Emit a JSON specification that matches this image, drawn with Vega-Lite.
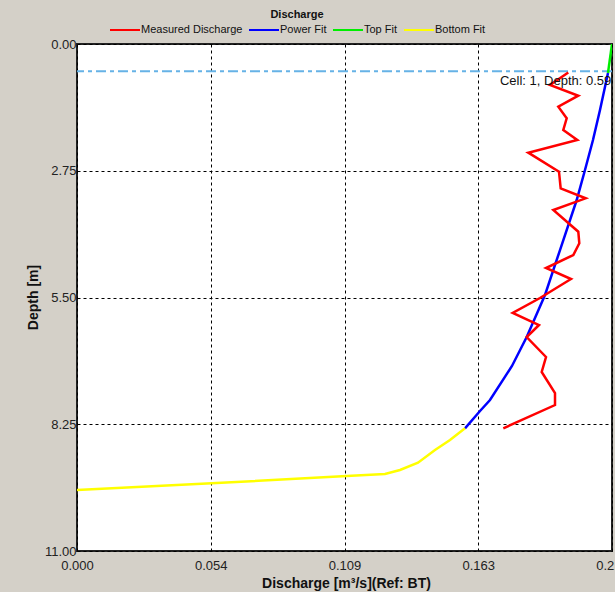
{
  "$schema": "https://vega.github.io/schema/vega-lite/v6.json",
  "width": 535,
  "height": 507,
  "autosize": {"type": "none"},
  "padding": {"left": 77, "top": 44, "right": 3, "bottom": 41},
  "background": "#d4d0c8",
  "config": {
    "font": "Liberation Sans",
    "view": {"fill": "white", "stroke": "#222222", "strokeWidth": 2},
    "axis": {
      "labelFont": "Liberation Sans",
      "labelFontSize": 13,
      "labelColor": "#222222",
      "titleFont": "Liberation Sans",
      "titleFontSize": 14,
      "titleFontWeight": "bold",
      "titleColor": "#111111",
      "grid": true,
      "gridColor": "#000000",
      "gridDash": [3, 3],
      "gridOpacity": 1,
      "gridWidth": 1,
      "ticks": false,
      "domain": false,
      "labelFlush": false,
      "labelOverlap": false,
      "labelBound": false
    }
  },
  "layer": [
    {
      "data": {"values": [{"depth": 0.59}]},
      "mark": {"type": "rule", "color": "#66b2e6", "strokeWidth": 2, "strokeDash": [10, 4, 4, 4]},
      "encoding": {
        "y": {"field": "depth", "type": "quantitative", "scale": {"domain": [0, 11], "reverse": true, "nice": false, "zero": false}}
      }
    },
    {
      "data": {
        "values": [
          {"series": "Top Fit", "i": 0, "depth": 0.0, "q": 0.2175},
          {"series": "Top Fit", "i": 1, "depth": 0.629, "q": 0.21587},
          {"series": "Power Fit", "i": 0, "depth": 0.629, "q": 0.21587},
          {"series": "Power Fit", "i": 1, "depth": 1.432, "q": 0.21262},
          {"series": "Power Fit", "i": 2, "depth": 2.083, "q": 0.20977},
          {"series": "Power Fit", "i": 3, "depth": 2.734, "q": 0.20652},
          {"series": "Power Fit", "i": 4, "depth": 3.385, "q": 0.20315},
          {"series": "Power Fit", "i": 5, "depth": 4.47, "q": 0.19636},
          {"series": "Power Fit", "i": 6, "depth": 5.446, "q": 0.19026},
          {"series": "Power Fit", "i": 7, "depth": 6.357, "q": 0.18282},
          {"series": "Power Fit", "i": 8, "depth": 6.986, "q": 0.17684},
          {"series": "Power Fit", "i": 9, "depth": 7.724, "q": 0.1679},
          {"series": "Power Fit", "i": 10, "depth": 7.963, "q": 0.16384},
          {"series": "Power Fit", "i": 11, "depth": 8.338, "q": 0.15774},
          {"series": "Bottom Fit", "i": 0, "depth": 8.338, "q": 0.15774},
          {"series": "Bottom Fit", "i": 1, "depth": 8.592, "q": 0.15164},
          {"series": "Bottom Fit", "i": 2, "depth": 8.809, "q": 0.14554},
          {"series": "Bottom Fit", "i": 3, "depth": 9.084, "q": 0.13863},
          {"series": "Bottom Fit", "i": 4, "depth": 9.243, "q": 0.13131},
          {"series": "Bottom Fit", "i": 5, "depth": 9.329, "q": 0.12521},
          {"series": "Bottom Fit", "i": 6, "depth": 9.373, "q": 0.10964},
          {"series": "Bottom Fit", "i": 7, "depth": 9.531, "q": 0.05476},
          {"series": "Bottom Fit", "i": 8, "depth": 9.677, "q": 0.0},
          {"series": "Measured Discharge", "i": 0, "depth": 0.62, "q": 0.19973},
          {"series": "Measured Discharge", "i": 1, "depth": 0.89, "q": 0.19229},
          {"series": "Measured Discharge", "i": 2, "depth": 1.122, "q": 0.2038},
          {"series": "Measured Discharge", "i": 3, "depth": 1.36, "q": 0.19567},
          {"series": "Measured Discharge", "i": 4, "depth": 1.612, "q": 0.19908},
          {"series": "Measured Discharge", "i": 5, "depth": 1.866, "q": 0.1977},
          {"series": "Measured Discharge", "i": 6, "depth": 2.083, "q": 0.20339},
          {"series": "Measured Discharge", "i": 7, "depth": 2.358, "q": 0.18347},
          {"series": "Measured Discharge", "i": 8, "depth": 2.771, "q": 0.19595},
          {"series": "Measured Discharge", "i": 9, "depth": 3.131, "q": 0.19664},
          {"series": "Measured Discharge", "i": 10, "depth": 3.348, "q": 0.20681},
          {"series": "Measured Discharge", "i": 11, "depth": 3.602, "q": 0.19364},
          {"series": "Measured Discharge", "i": 12, "depth": 4.072, "q": 0.2038},
          {"series": "Measured Discharge", "i": 13, "depth": 4.324, "q": 0.20421},
          {"series": "Measured Discharge", "i": 14, "depth": 4.578, "q": 0.20177},
          {"series": "Measured Discharge", "i": 15, "depth": 4.86, "q": 0.19067},
          {"series": "Measured Discharge", "i": 16, "depth": 5.099, "q": 0.20083},
          {"series": "Measured Discharge", "i": 17, "depth": 5.511, "q": 0.18823},
          {"series": "Measured Discharge", "i": 18, "depth": 5.836, "q": 0.17713},
          {"series": "Measured Discharge", "i": 19, "depth": 6.097, "q": 0.18782},
          {"series": "Measured Discharge", "i": 20, "depth": 6.357, "q": 0.18282},
          {"series": "Measured Discharge", "i": 21, "depth": 6.791, "q": 0.19067},
          {"series": "Measured Discharge", "i": 22, "depth": 7.116, "q": 0.18892},
          {"series": "Measured Discharge", "i": 23, "depth": 7.572, "q": 0.19433},
          {"series": "Measured Discharge", "i": 24, "depth": 7.833, "q": 0.19433},
          {"series": "Measured Discharge", "i": 25, "depth": 8.338, "q": 0.17331}
        ]
      },
      "mark": {"type": "line", "strokeWidth": 2.5, "clip": true},
      "encoding": {
        "x": {
          "field": "q", "type": "quantitative",
          "scale": {"domain": [0, 0.2175], "nice": false, "zero": false},
          "axis": {
            "values": [0, 0.054375, 0.10875, 0.163125, 0.2175],
            "format": ".3f",
            "labelPadding": 8,
            "title": "Discharge [m³/s](Ref: BT)",
            "titleX": 269,
            "titleY": 32,
            "titleAnchor": "middle",
            "titleBaseline": "middle"
          }
        },
        "y": {
          "field": "depth", "type": "quantitative",
          "scale": {"domain": [0, 11], "reverse": true, "nice": false, "zero": false},
          "axis": {
            "values": [0, 2.75, 5.5, 8.25, 11],
            "format": ".2f",
            "labelPadding": 1,
            "title": "Depth [m]",
            "titleX": -44,
            "titleY": 253,
            "titleAngle": -90,
            "titleAlign": "center",
            "titleBaseline": "middle"
          }
        },
        "color": {
          "field": "series", "type": "nominal",
          "scale": {
            "domain": ["Measured Discharge", "Power Fit", "Top Fit", "Bottom Fit"],
            "range": ["#ff0000", "#0000ff", "#00ee00", "#ffff00"]
          },
          "legend": {
            "orient": "none",
            "legendX": 32,
            "legendY": -35,
            "direction": "horizontal",
            "title": "Discharge",
            "titleOrient": "top",
            "titleAnchor": "middle",
            "titleFont": "Liberation Sans",
            "titleFontSize": 11,
            "titleFontWeight": "bold",
            "titleColor": "#111111",
            "titlePadding": -6,
            "symbolType": "stroke",
            "symbolSize": 900,
            "symbolStrokeWidth": 2,
            "labelFont": "Liberation Sans",
            "labelFontSize": 11,
            "labelColor": "#111111",
            "labelOffset": 0,
            "columnPadding": 2
          }
        },
        "order": {"field": "i", "type": "quantitative"}
      }
    },
    {
      "data": {"values": [{"depth": 0.59, "q": 0.2172, "label": "Cell: 1, Depth: 0.59"}]},
      "mark": {"type": "text", "align": "right", "baseline": "top", "dy": 4, "font": "Liberation Sans", "fontSize": 13, "color": "#111111"},
      "encoding": {
        "x": {"field": "q", "type": "quantitative"},
        "y": {"field": "depth", "type": "quantitative"},
        "text": {"field": "label"}
      }
    }
  ]
}
